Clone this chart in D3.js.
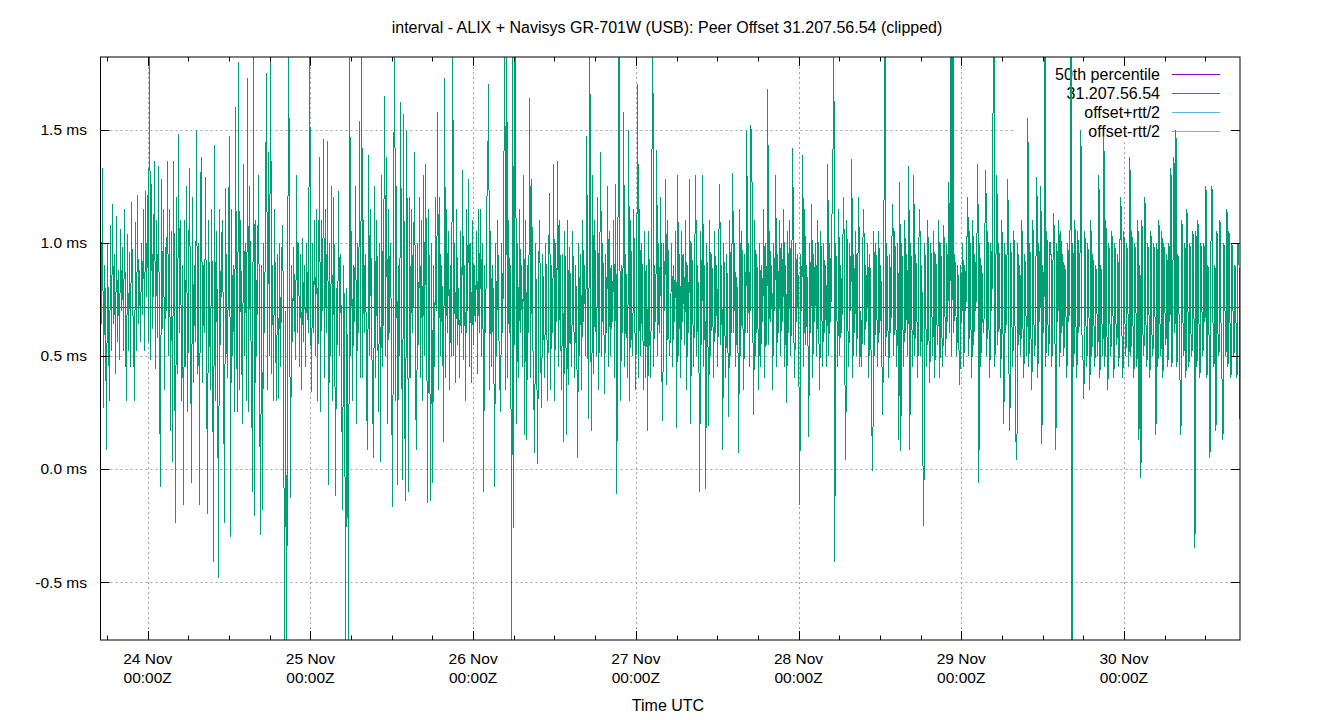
<!DOCTYPE html>
<html><head><meta charset="utf-8">
<script src="https://cdn.jsdelivr.net/npm/d3@7"></script>
<style>
body{margin:0;background:#fff}
text{font-family:"Liberation Sans",Arial,sans-serif;font-size:16px;fill:#000}
text.tick{font-size:15.5px}
</style>
</head><body>
<svg id="chart" width="1340" height="720"></svg>
<script>
// ---- data (offset in microseconds), six consecutive stretches of the time range ----
const title = "interval - ALIX + Navisys GR-701W (USB): Peer Offset 31.207.56.54 (clipped)";
const xAxisLabel = "Time UTC";
const legendLabels = ["50th percentile", "31.207.56.54", "offset+rtt/2", "offset-rtt/2"];
const legendColors = ["#9400d3", "#009e73", "#56b4e9", "#e69f00"];
const yTicks = [-500, 0, 500, 1000, 1500];
const median = 716;
const startTime = Date.UTC(2016, 10, 23, 17, 2, 13);
const endTime = Date.UTC(2016, 10, 30, 17, 7, 0);

const offsetA = [
 960,640,1330,270,900,700,85,1000,620,300,
 1080,520,1170,640,950,420,1120,560,880,480,
 1060,700,980,520,1150,600,300,1040,520,960,
 450,1180,760,600,300,1090,520,1210,640,880,
 560,1000,680,1150,520,1230,760,1210,560,2100,
 480,1260,620,900,1360,440,1100,580,1340,380,
 -80,1280,620,1150,350,980,700,1360,500,1150,
 170,1050,30,1360,700,-240,1200,420,1480,600,
 1100,300,900,-160,1100,450,1250,250,800,1330,
 600,-60,1200,380,900,560,1500,420,1000,-160,
 1250,1380,380,900,600,1290,500,-200,1100,700,
 350,1150,650,-410,1430,300,1050,500,-480,1150,
 550,1000,1100,400,-240,1240,600,400,1050,1470,
 -300,1150,500,900,250,1600,600,250,1800,350,
 1100,600,200,1350,500,1000,300,1730,250,1250,
 700,400,-100,2100,-210,1100,500,900,1300,400,
 -290,900,-180,1000,600,1200,1750,350,1400,500,
 2100,420,900,300,1150,600,300,950,310,1000,
 450,900,1080,600,-1000,700,-1000,500,2100,800
];
const offsetB = [
 -130,900,560,980,700,480,1300,600,1000,450,
 950,350,1020,560,900,450,1000,700,600,2100,
 700,340,1000,600,1100,500,1150,300,900,1380,
 250,1100,700,1460,400,1150,600,1450,-70,1000,
 500,1250,300,1200,700,-120,800,550,1230,500,
 950,400,-180,900,600,-1000,800,300,-1000,2100,
 500,1050,300,900,650,1250,200,1000,600,1540,
 400,2100,400,1100,600,950,300,85,1390,500,
 1150,600,300,50,1250,400,1100,700,250,1000,
 30,1300,450,900,1650,500,1380,200,1150,600,
 1000,350,-170,1100,2100,300,1250,-70,900,500,
 1620,600,-50,1570,300,-140,1500,700,-100,1200,
 400,1150,600,900,1400,300,85,1000,550,1200,
 400,1100,300,1300,500,1350,700,-150,1150,600,
 -140,1000,-60,900,450,1200,700,1580,350,1200,
 500,900,650,120,1730,400,1150,600,1050,350,
 900,500,2100,500,1000,380,1150,550,800,400,
 1050,600,1320,480,900,300,1150,700,1280,450,
 1000,380,1100,550,900,650,1050,420,1150,600
];
const offsetC = [
 1150,500,1000,-100,900,600,1150,1310,1700,350,
 1050,450,900,600,-80,1000,500,1100,650,400,
 250,1000,600,1050,2100,350,2100,400,1100,600,
 900,-1000,2100,-260,2100,1560,200,1000,400,1150,
 600,900,450,1300,150,1100,130,900,600,1640,
 400,1280,600,350,70,1000,500,20,900,1100,
 500,270,950,650,400,1000,700,300,950,1220,
 350,900,600,1350,300,1000,650,1360,450,1100,
 600,350,950,120,1050,700,150,1100,370,980,
 600,450,1050,700,400,900,600,50,1000,500,
 950,350,1100,650,900,500,1470,600,220,2100,
 600,170,1300,420,1100,650,500,1200,350,900,
 1400,500,1000,700,330,950,600,1250,450,1050,
 500,900,650,1100,400,1260,-110,700,2100,1100,
 300,900,600,1580,450,950,650,400,1500,300,
 1100,600,500,1150,700,350,900,1700,400,1150,
 500,1000,650,350,1050,400,900,170,1050,600,
 400,1150,2100,450,900,650,1410,500,1000,600,
 1200,450,210,1000,700,1280,370,1100,600,500
];
const offsetD = [
 700,1000,450,900,650,1050,180,1300,500,950,
 400,1050,650,950,550,1100,350,900,600,1280,
 200,1000,700,450,950,1300,500,900,600,-100,
 1050,550,1300,450,900,-90,1000,650,190,1100,
 500,950,700,400,1050,600,900,450,1000,1260,
 550,900,85,1000,650,400,950,600,230,1100,
 500,900,1310,600,1000,450,850,650,70,1150,
 500,1050,700,350,950,600,1500,600,1000,450,
 1520,1450,650,240,1100,500,950,700,350,1000,
 450,900,650,1150,400,1000,550,1680,550,1050,
 650,900,350,1000,700,1300,450,950,600,1100,
 500,1000,650,1150,450,900,290,1050,600,1100,
 500,900,1420,600,400,1000,650,950,500,-160,
 950,700,1390,450,1150,550,900,650,140,1000,
 600,1170,400,950,650,1000,500,1100,600,350,
 1050,700,450,1000,600,900,450,1350,500,1000,
 650,1100,1240,2100,-410,1000,700,450,1150,500,
 900,600,1000,1200,450,40,1100,650,450,1000,
 700,1370,400,950,600,1050,500,900,1200,450
];
const offsetE = [
 700,450,1000,1150,550,900,650,1000,400,950,
 600,180,-10,1050,500,1000,700,450,1050,600,
 900,500,240,1000,2100,500,1000,650,400,950,
 600,1000,1170,500,1050,650,450,1000,130,1270,
 80,1000,650,450,1100,600,950,500,1340,85,
 1000,650,450,1300,500,950,700,400,1000,1150,
 500,900,60,-250,1000,650,450,1100,600,380,
 1000,700,500,1050,400,950,650,550,1100,400,
 1000,600,450,1080,700,500,1000,650,1270,600,
 2100,500,2100,600,950,700,500,900,550,370,
 900,650,1000,450,900,700,1000,1200,500,1050,
 650,400,1100,550,950,700,1000,1350,-60,1000,
 450,900,650,600,1050,1320,500,1050,650,400,
 1000,700,1500,2100,450,900,1300,550,1000,650,
 400,1100,650,200,1000,600,900,1280,450,170,
 1000,650,450,1050,700,130,40,1000,550,900,
 500,1100,650,400,950,700,500,1550,450,1000,
 600,350,1100,650,500,900,1290,400,1000,650,
 1250,110,900,600,2100,450,1050,650,500,1000
];
const offsetF = [
 1000,450,900,1130,600,85,1000,650,1100,450,
 1050,600,950,500,900,700,400,1000,650,950,
 2100,-1000,1000,450,1100,650,400,1050,600,900,
 1500,600,500,310,1050,650,450,1000,700,350,
 1100,500,950,650,450,900,700,500,1300,400,
 900,650,500,1470,450,1100,600,350,1000,650,
 500,1050,700,400,1000,650,550,950,450,1000,
 1200,600,400,1050,650,500,1000,700,450,1380,
 500,1050,650,400,1000,700,450,1100,130,900,
 -40,1100,600,500,1200,650,450,1000,700,400,
 1050,600,500,1000,700,150,1000,450,1100,650,
 500,1050,400,1000,700,550,950,450,1000,650,
 1330,450,900,1380,600,1500,450,950,700,400,
 150,1100,650,500,1000,400,1150,700,450,1000,
 600,500,1050,700,-350,1050,450,1100,650,400,
 1000,700,500,1000,650,1250,400,900,600,50,
 1000,1250,650,450,900,170,1050,600,500,1100,
 650,400,130,1000,700,500,1150,450,1050,650,
 400,1000,700,500,900,650,400,1000,900,220
];

// ---- layout ----
const L = 100.5, R = 1240, T = 57, B = 640;
const svg = d3.select("#chart");

const offsets = [].concat(offsetA, offsetB, offsetC, offsetD, offsetE, offsetF);
const n = offsets.length;
const data = offsets.map((v, i) => ({t: new Date(startTime + i * (endTime - startTime) / (n - 1)), v}));

const x = d3.scaleUtc().domain([new Date(startTime), new Date(endTime)]).range([L, R]);
const y = d3.scaleLinear().domain([-756, 1821]).range([B, T]);

const days = d3.utcDay.range(new Date(startTime), new Date(endTime));
const sixHours = d3.utcHour.every(6).range(new Date(startTime), new Date(endTime));

// grid
const grid = svg.append("g").attr("stroke", "#a0a0a0").attr("stroke-width", 1).attr("stroke-dasharray", "2,3");
days.forEach(d => grid.append("line").attr("x1", Math.round(x(d)) + .5).attr("x2", Math.round(x(d)) + .5).attr("y1", T).attr("y2", B));
yTicks.forEach(v => grid.append("line").attr("x1", L).attr("x2", R).attr("y1", Math.round(y(v)) + .5).attr("y2", Math.round(y(v)) + .5));

// legend (opaque box, drawn before data)
const lg = svg.append("g");
lg.append("rect").attr("x", 1013).attr("y", T + 1).attr("width", 216).attr("height", 84).attr("fill", "#fff");
legendLabels.forEach((lab, i) => {
  const yy = 74 + i * 19;
  lg.append("text").attr("x", 1160).attr("y", yy).attr("dy", "0.35em").attr("text-anchor", "end").text(lab);
  lg.append("line").attr("x1", 1172).attr("x2", 1220).attr("y1", yy + .5).attr("y2", yy + .5)
    .attr("stroke", legendColors[i]).attr("stroke-width", 1);
});

// clip
svg.append("clipPath").attr("id", "plot").append("rect").attr("x", L).attr("y", T).attr("width", R - L).attr("height", B - T);
const plot = svg.append("g").attr("clip-path", "url(#plot)");

// median
plot.append("line").attr("x1", L).attr("x2", R).attr("y1", Math.round(y(median)) + .5).attr("y2", Math.round(y(median)) + .5)
  .attr("stroke", legendColors[0]).attr("stroke-width", 1);

// offset line
plot.append("path").datum(data)
  .attr("d", d3.line().x(d => x(d.t)).y(d => y(d.v)))
  .attr("fill", "none").attr("stroke", legendColors[1]).attr("stroke-width", 1)
  .attr("shape-rendering", "crispEdges");

// frame
svg.append("rect").attr("x", L).attr("y", T).attr("width", R - L).attr("height", B - T)
  .attr("fill", "none").attr("stroke", "#000").attr("stroke-width", 1);

// ticks
const tk = svg.append("g").attr("stroke", "#000").attr("stroke-width", 1);
days.forEach(d => {
  const xx = Math.round(x(d)) + .5;
  tk.append("line").attr("x1", xx).attr("x2", xx).attr("y1", B).attr("y2", B - 9);
  tk.append("line").attr("x1", xx).attr("x2", xx).attr("y1", T).attr("y2", T + 9);
});
sixHours.forEach(d => {
  if (d.getUTCHours() === 0) return;
  const xx = Math.round(x(d)) + .5;
  tk.append("line").attr("x1", xx).attr("x2", xx).attr("y1", B).attr("y2", B - 4.5);
  tk.append("line").attr("x1", xx).attr("x2", xx).attr("y1", T).attr("y2", T + 4.5);
});
yTicks.forEach(v => {
  const yy = Math.round(y(v)) + .5;
  tk.append("line").attr("x1", L).attr("x2", L + 9).attr("y1", yy).attr("y2", yy);
  tk.append("line").attr("x1", R).attr("x2", R - 9).attr("y1", yy).attr("y2", yy);
});

// tick labels
const fmtDay = d3.utcFormat("%d %b"), fmtTime = d3.utcFormat("%H:%MZ");
days.forEach(d => {
  svg.append("text").attr("class", "tick").attr("x", x(d)).attr("y", 664).attr("text-anchor", "middle").text(fmtDay(d));
  svg.append("text").attr("class", "tick").attr("x", x(d)).attr("y", 683).attr("text-anchor", "middle").text(fmtTime(d));
});
yTicks.forEach(v => {
  svg.append("text").attr("class", "tick").attr("x", 87).attr("y", y(v)).attr("dy", "0.35em").attr("text-anchor", "end")
    .text(d3.format(".1f")(v / 1000).replace("\u2212", "-") + " ms");
});

// titles
svg.append("text").attr("x", 667).attr("y", 33).attr("text-anchor", "middle").text(title);
svg.append("text").attr("x", 668).attr("y", 711).attr("text-anchor", "middle").text(xAxisLabel);
</script>
</body></html>
